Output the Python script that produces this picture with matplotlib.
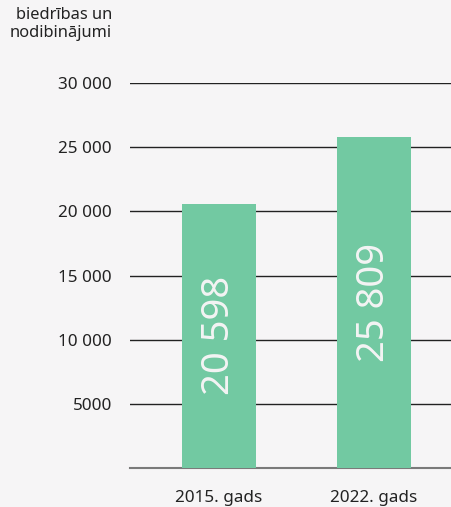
import matplotlib.pyplot as plt

gadi = ["2015. gads", "2022. gads"]
skaits = [20598, 25809]
y_ticks = [5000, 10000, 15000, 20000, 25000, 30000]
y_tick_labels = ["5000", "10 000", "15 000", "20 000", "25 000", "30 000"]

plt.rcParams["font.family"] = ["Noto Sans", "DejaVu Sans"]

fons = "#f6f5f6"
zals = "#72c9a2"

fig = plt.figure(figsize=(4.52, 5.07), dpi=100, facecolor=fons)
ax = fig.add_axes([0.2876, 0.0769, 0.7124, 0.7594], facecolor=fons)

x = list(range(len(gadi)))
ax.bar(x, skaits, width=0.477, color=zals, zorder=3)

for xi, v in zip(x, skaits):
    teksts = f"{v:,}".replace(",", " ")
    ax.text(xi, v / 2, teksts, rotation=90, ha="center", va="center",
            fontsize=27.5, color="#f4f4f4", zorder=4)

ax.set_xlim(-0.573, 1.502)
ax.set_ylim(0, 30000)
ax.set_yticks(y_ticks)
ax.set_yticklabels(y_tick_labels, fontsize=12.3, color="#222222")
ax.set_xticks(x)
ax.set_xticklabels(gadi, fontsize=12.3, color="#222222")
ax.tick_params(axis="y", length=0, pad=13)
ax.tick_params(axis="x", length=0, pad=16)

ax.grid(axis="y", color="#222222", linewidth=1, zorder=1)
for s in ["top", "right", "left"]:
    ax.spines[s].set_visible(False)
ax.spines["bottom"].set_color("#7a7a7a")
ax.spines["bottom"].set_linewidth(1.5)

fig.text(112 / 452, 1 - 7 / 507, "biedrības un\nnodibinājumi", ha="right", va="top",
         fontsize=11.8, color="#222222", linespacing=1.15)

fig.savefig("out.png", dpi=100, facecolor=fons)
